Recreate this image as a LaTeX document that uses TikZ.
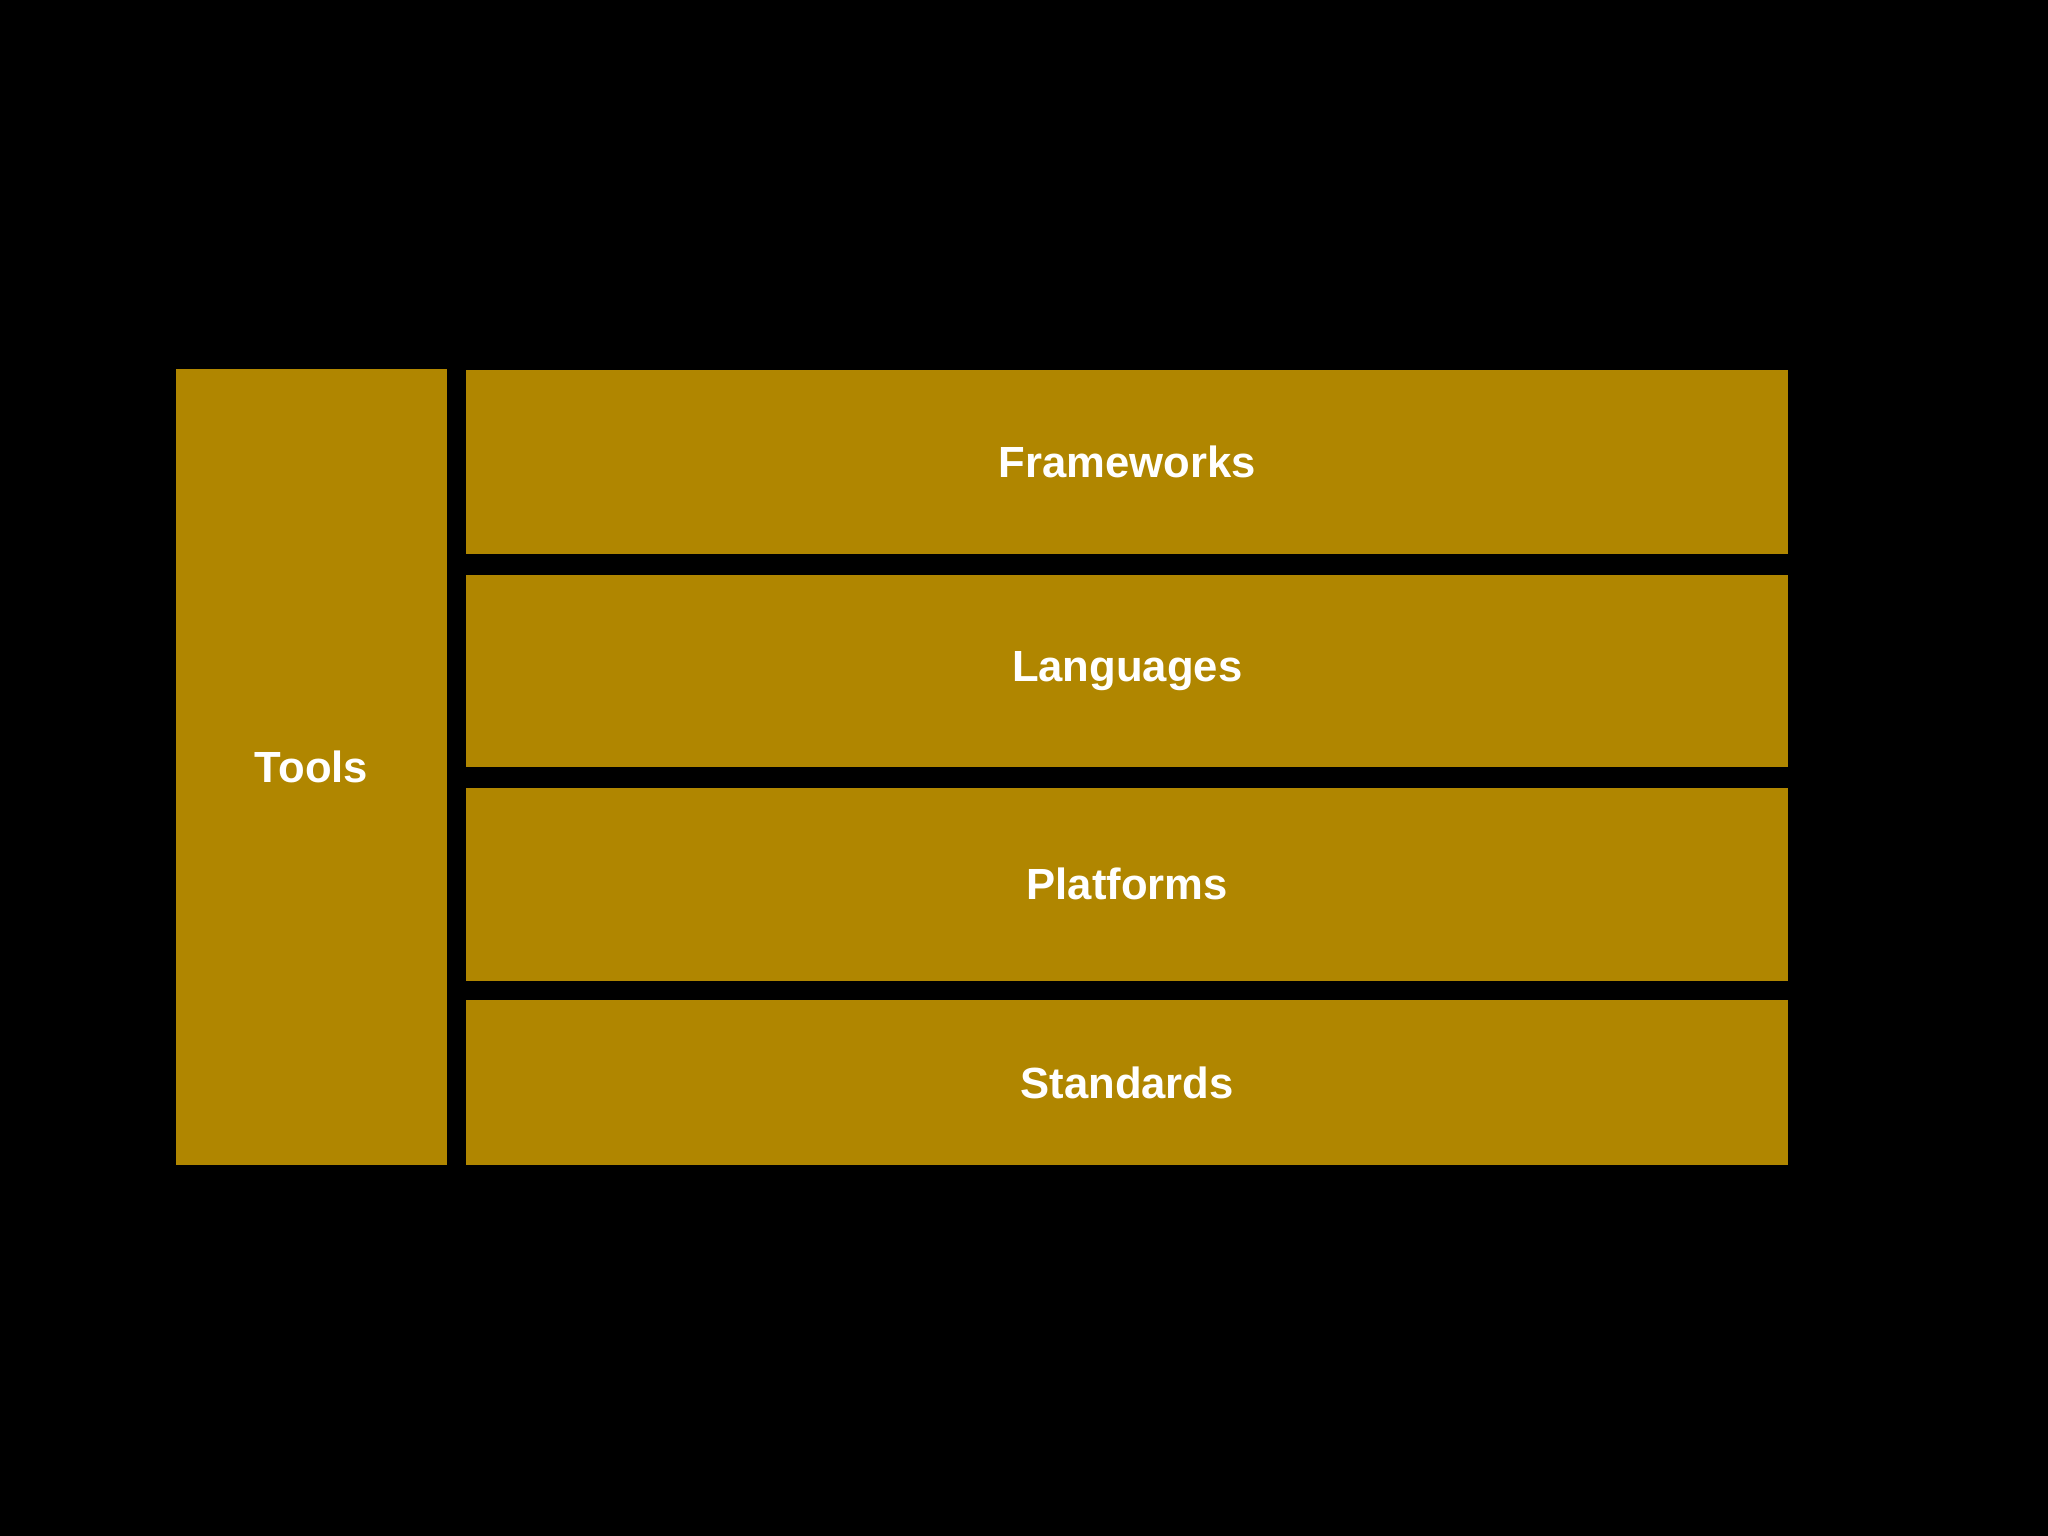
\documentclass[tikz,border=0pt]{standalone}
\usepackage{fontspec}
\setmainfont{Liberation Sans}
\definecolor{gold}{HTML}{B08600}
\begin{document}
\begin{tikzpicture}[x=0.01cm,y=-0.01cm,
  blk/.style={fill=gold,draw=none,inner sep=0pt,text=white,font=\fontsize{9.5}{11}\selectfont\bfseries}]
\fill[black] (0,0) rectangle (1568,1176);
\path[use as bounding box] (0,0) rectangle (1568,1176);
\node[blk,minimum width=2.07cm,minimum height=6.09cm] (tools) at (238.5,587.5) {Tools};
\node[blk,minimum width=10.12cm,minimum height=1.41cm] (fw) at (863,353.5) {Frameworks};
\node[blk,minimum width=10.12cm,minimum height=1.47cm] (lang) at (863,513.5) {Languages};
\node[blk,minimum width=10.12cm,minimum height=1.48cm] (plat) at (863,677) {Platforms};
\node[blk,minimum width=10.12cm,minimum height=1.26cm] (std) at (863,829) {Standards};
\end{tikzpicture}
\end{document}
